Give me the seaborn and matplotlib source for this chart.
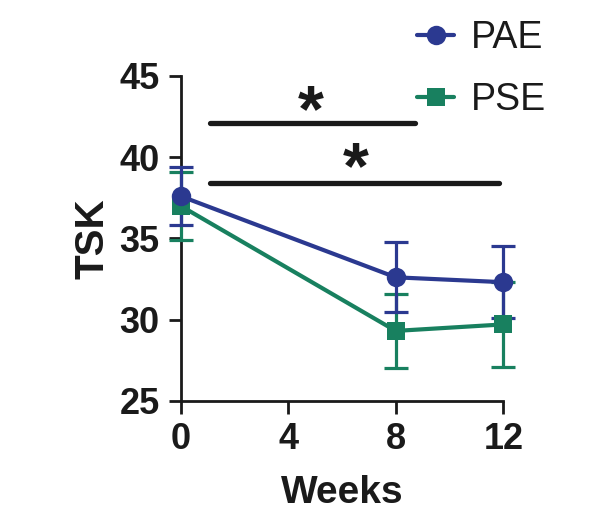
import numpy as np
import pandas as pd
import matplotlib
matplotlib.use('Agg')
import matplotlib.pyplot as plt
import seaborn as sns

# data (mean and SD)
weeks = [0, 8, 12]
pae_mean = [37.6, 32.6, 32.3]
pae_sd = [1.8, 2.15, 2.2]
pse_mean = [37.0, 29.3, 29.7]
pse_sd = [2.1, 2.3, 2.6]
groups = ['PAE', 'PSE']
xticks = [0, 4, 8, 12]
yticks = [25, 30, 35, 40, 45]

colors = {'PAE': '#2b3990', 'PSE': '#18805f'}
ink = '#1a1a1a'

sns.set_style('ticks')
plt.rcParams['font.family'] = ['Liberation Sans', 'DejaVu Sans']
plt.rcParams['text.color'] = ink
plt.rcParams['axes.labelcolor'] = ink
plt.rcParams['xtick.color'] = ink
plt.rcParams['ytick.color'] = ink

df = pd.DataFrame({
    'Weeks': weeks * 2,
    'TSK': pae_mean + pse_mean,
    'SD': pae_sd + pse_sd,
    'group': ['PAE'] * 3 + ['PSE'] * 3,
})

fig = plt.figure(figsize=(5.98, 5.18), dpi=100)
ax = fig.add_axes([0.302, 0.2264, 0.5397, 0.6269])

# draw PSE first so PAE sits on top
for g, mk, ms in [('PSE', 's', 12.5), ('PAE', 'o', 14)]:
    sub = df[df['group'] == g]
    ax.errorbar(sub['Weeks'], sub['TSK'], yerr=sub['SD'], fmt='none',
                ecolor=colors[g], elinewidth=2.3, capsize=8.5, capthick=2.3,
                clip_on=False, zorder=3)
    sns.lineplot(data=sub, x='Weeks', y='TSK', color=colors[g], marker=mk,
                 markersize=ms, markeredgewidth=0, linewidth=3, label=g,
                 ax=ax, clip_on=False, zorder=4)

# significance bars
ax.plot([1.1, 8.7], [42.1, 42.1], color=ink, lw=3.8, solid_capstyle='round', clip_on=False)
ax.plot([1.1, 11.85], [38.4, 38.4], color=ink, lw=3.8, solid_capstyle='round', clip_on=False)
ax.text(4.85, 41.6, '*', fontsize=48, fontweight='bold', ha='center', va='baseline')
ax.text(6.5, 38.1, '*', fontsize=48, fontweight='bold', ha='center', va='baseline')

ax.set_xlim(0, 12)
ax.set_ylim(25, 45)
ax.set_xticks(xticks)
ax.set_yticks(yticks)
sns.despine(ax=ax)
for s in ['left', 'bottom']:
    ax.spines[s].set_linewidth(2)
    ax.spines[s].set_color(ink)
ax.tick_params(axis='both', length=9, width=2, labelsize=26, pad=6)
for lab in ax.get_xticklabels() + ax.get_yticklabels():
    lab.set_fontweight('bold')
ax.set_xlabel('Weeks', fontsize=28, fontweight='bold', labelpad=13)
ax.set_ylabel('TSK', fontsize=29, fontweight='bold', labelpad=6)

h, l = ax.get_legend_handles_labels()
order = [l.index('PAE'), l.index('PSE')]
ax.legend([h[i] for i in order], [l[i] for i in order], frameon=False,
          fontsize=27, loc='upper left', bbox_to_anchor=(0.672, 0.99),
          bbox_transform=fig.transFigure, handlelength=1.0,
          handletextpad=0.45, labelspacing=0.68, borderaxespad=0)

fig.savefig('out.png', dpi=100)
